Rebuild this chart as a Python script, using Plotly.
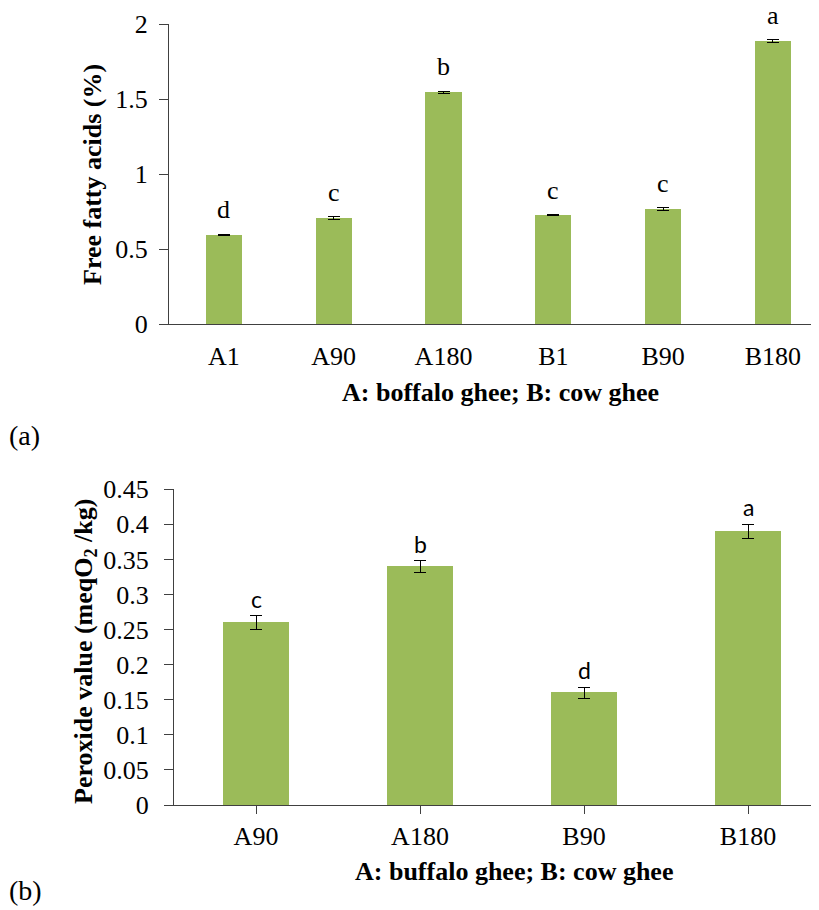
import plotly.graph_objects as go

W, H = 819, 910
OFF = 8  # page body margin of the rendered html

# ---- data: panel (a) ----
ffa_cats = ["A1", "A90", "A180", "B1", "B90", "B180"]
ffa_vals = [0.595, 0.705, 1.545, 0.728, 0.765, 1.885]
ffa_err = [0.003, 0.010, 0.008, 0.002, 0.010, 0.010]
ffa_letters = ["d", "c", "b", "c", "c", "a"]

# ---- data: panel (b) ----
pv_cats = ["A90", "A180", "B90", "B180"]
pv_vals = [0.26, 0.34, 0.16, 0.39]
pv_err = [0.010, 0.008, 0.008, 0.010]
pv_letters = ["c", "b", "d", "a"]

GREEN = "#9BBB59"
AXC = "#404040"
SERIF = "Liberation Serif, Times New Roman, serif"
SANS = "Lato, Carlito, Calibri, sans-serif"

def px_x(p):
    return (p - OFF) / W

def px_y(p):
    return 1 - (p - OFF) / H

# axis geometry (page pixels)
TOP_X0, TOP_CAT = 169, 109.8
BOT_X0, BOT_CAT = 174, 164.0
RIGHT_EDGE = W + OFF
top_xmax = (RIGHT_EDGE - TOP_X0) / TOP_CAT - 0.5
bot_xmax = (RIGHT_EDGE - BOT_X0) / BOT_CAT - 0.5

fig = go.Figure()

fig.add_trace(go.Bar(
    x=list(range(len(ffa_cats))), y=ffa_vals, width=0.33,
    marker=dict(color=GREEN, line=dict(width=0)),
    error_y=dict(type="data", array=ffa_err, color="black", thickness=1, width=6),
    xaxis="x", yaxis="y", showlegend=False,
))
fig.add_trace(go.Bar(
    x=list(range(len(pv_cats))), y=pv_vals, width=0.4,
    marker=dict(color=GREEN, line=dict(width=0)),
    error_y=dict(type="data", array=pv_err, color="black", thickness=1, width=6),
    xaxis="x2", yaxis="y2", showlegend=False,
))

annotations = []
for i, (v, e, t) in enumerate(zip(ffa_vals, ffa_err, ffa_letters)):
    annotations.append(dict(x=i, y=v + e, xref="x", yref="y", text=t, showarrow=False,
                            xanchor="center", yanchor="bottom", yshift=8,
                            font=dict(family=SERIF, size=26, color="black")))
for i, (v, e, t) in enumerate(zip(pv_vals, pv_err, pv_letters)):
    annotations.append(dict(x=i, y=v + e, xref="x2", yref="y2", text=t, showarrow=False,
                            xanchor="center", yanchor="bottom", yshift=1,
                            font=dict(family=SANS, size=23, color="black")))

def paper_text(x, y, text, size, angle=0, xanchor="center"):
    return dict(x=px_x(x), y=px_y(y), xref="paper", yref="paper", text=text,
                textangle=angle, showarrow=False, xanchor=xanchor, yanchor="middle",
                font=dict(family=SERIF, size=size, color="black"))

annotations += [
    paper_text(92, 175, "<b>Free fatty acids (%)</b>", 26, angle=-90),
    paper_text(500, 392, "<b>A: boffalo ghee; B: cow ghee</b>", 26),
    paper_text(85, 652, "<b>Peroxide value (meqO<sub>2</sub> /kg)</b>", 26, angle=-90),
    paper_text(514, 871, "<b>A: buffalo ghee; B: cow ghee</b>", 26),
    paper_text(7, 435, "(a)", 28, xanchor="left"),
    paper_text(7, 890, "(b)", 28, xanchor="left"),
]

tickfont = dict(family=SERIF, size=26, color="black")

fig.update_layout(
    width=W, height=H,
    margin=dict(l=0, r=0, t=0, b=0, autoexpand=False),
    paper_bgcolor="white", plot_bgcolor="white",
    bargap=0,
    annotations=annotations,
    xaxis=dict(domain=[px_x(TOP_X0), 1], range=[-0.5, top_xmax], anchor="y", automargin=False,
               tickmode="array", tickvals=list(range(len(ffa_cats))), ticktext=ffa_cats,
               showline=True, linecolor=AXC, linewidth=1, ticks="", showgrid=False,
               zeroline=False, tickfont=tickfont, ticklabelstandoff=9),
    yaxis=dict(domain=[px_y(324), px_y(24)], range=[0, 2], anchor="x", automargin=False,
               tickmode="array", tickvals=[0, 0.5, 1, 1.5, 2], ticktext=["0", "0.5", "1", "1.5", "2"],
               showline=True, linecolor=AXC, linewidth=1, ticks="outside", ticklen=9,
               tickcolor=AXC, showgrid=False, zeroline=False, tickfont=tickfont,
               ticklabelstandoff=6),
    xaxis2=dict(domain=[px_x(BOT_X0), 1], range=[-0.5, bot_xmax], anchor="y2", automargin=False,
                tickmode="array", tickvals=list(range(len(pv_cats))), ticktext=pv_cats,
                tickson="boundaries",
                showline=True, linecolor=AXC, linewidth=1, ticks="outside", ticklen=8,
                tickcolor=AXC, showgrid=False, zeroline=False, tickfont=tickfont,
                ticklabelstandoff=0),
    yaxis2=dict(domain=[px_y(805), px_y(489.3)], range=[0, 0.45], anchor="x2", automargin=False,
                tickmode="array",
                tickvals=[0, 0.05, 0.1, 0.15, 0.2, 0.25, 0.3, 0.35, 0.4, 0.45],
                ticktext=["0", "0.05", "0.1", "0.15", "0.2", "0.25", "0.3", "0.35", "0.4", "0.45"],
                showline=True, linecolor=AXC, linewidth=1, ticks="outside", ticklen=9,
                tickcolor=AXC, showgrid=False, zeroline=False, tickfont=tickfont,
                ticklabelstandoff=10),
)

fig.write_html("out.html")
